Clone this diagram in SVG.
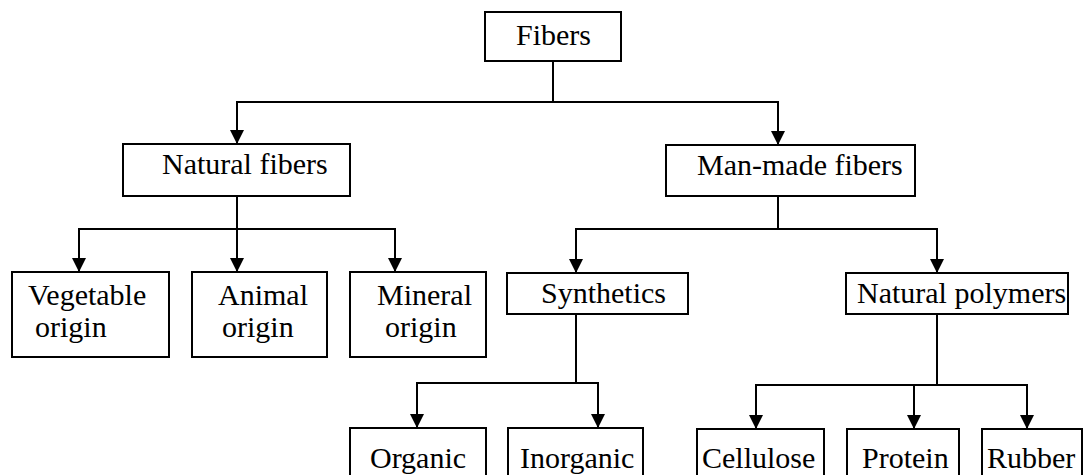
<svg xmlns="http://www.w3.org/2000/svg" width="1086" height="475" viewBox="0 0 1086 475">
<style>
.box{fill:#fff;stroke:#000;stroke-width:2}
text{font-family:'Liberation Serif','Times New Roman','DejaVu Serif',serif;font-size:30px;fill:#000}
.con{fill:none;stroke:#000;stroke-width:2}
</style>
<defs>
<marker id="ah" markerUnits="userSpaceOnUse" markerWidth="14" markerHeight="14" viewBox="0 0 14 14" refX="14" refY="7" orient="auto">
<path d="M0,0 L14,7 L0,14 Z" fill="#000"/>
</marker>
</defs>
<rect width="1086" height="475" fill="#fff"/>
<g id="connectors">
<path class="con" d="M553 61 V102 H237 V144" marker-end="url(#ah)"/>
<path class="con" d="M553 102 H778 V145" marker-end="url(#ah)"/>
<path class="con" d="M237 196 V229 H79 V272" marker-end="url(#ah)"/>
<path class="con" d="M237 229 V272" marker-end="url(#ah)"/>
<path class="con" d="M237 229 H395 V272" marker-end="url(#ah)"/>
<path class="con" d="M778 196 V229 H576 V273" marker-end="url(#ah)"/>
<path class="con" d="M778 229 H937 V273" marker-end="url(#ah)"/>
<path class="con" d="M576 314 V383 H417 V428" marker-end="url(#ah)"/>
<path class="con" d="M576 383 H598 V428" marker-end="url(#ah)"/>
<path class="con" d="M937 314 V385 H756 V429" marker-end="url(#ah)"/>
<path class="con" d="M914 385 V429" marker-end="url(#ah)"/>
<path class="con" d="M937 385 H1027 V429" marker-end="url(#ah)"/>
</g>
<g id="fibers"><rect class="box" x="485" y="12" width="136" height="49"/><text x="516" y="45">Fibers</text></g>
<g id="natural-fibers"><rect class="box" x="123" y="144" width="227" height="52"/><text x="162" y="174">Natural fibers</text></g>
<g id="man-made-fibers"><rect class="box" x="666" y="145" width="249" height="51"/><text x="697" y="175">Man-made fibers</text></g>
<g id="vegetable"><rect class="box" x="12" y="272" width="157" height="85"/><text x="28" y="305">Vegetable</text><text x="35" y="337">origin</text></g>
<g id="animal"><rect class="box" x="192" y="272" width="135" height="85"/><text x="218" y="305">Animal</text><text x="222" y="337">origin</text></g>
<g id="mineral"><rect class="box" x="350" y="272" width="136" height="85"/><text x="377" y="305">Mineral</text><text x="385" y="337">origin</text></g>
<g id="synthetics"><rect class="box" x="507" y="273" width="181" height="41"/><text x="541" y="303">Synthetics</text></g>
<g id="natural-polymers"><rect class="box" x="846" y="273" width="222" height="41"/><text x="857" y="303">Natural polymers</text></g>
<g id="organic"><rect class="box" x="350" y="428" width="136" height="60"/><text x="370" y="468">Organic</text></g>
<g id="inorganic"><rect class="box" x="508" y="428" width="135" height="60"/><text x="520" y="468">Inorganic</text></g>
<g id="cellulose"><rect class="box" x="697" y="429" width="127" height="60"/><text x="702" y="468">Cellulose</text></g>
<g id="protein"><rect class="box" x="847" y="429" width="112" height="60"/><text x="862" y="468">Protein</text></g>
<g id="rubber"><rect class="box" x="982" y="429" width="100" height="60"/><text x="987" y="468">Rubber</text></g>
</svg>
